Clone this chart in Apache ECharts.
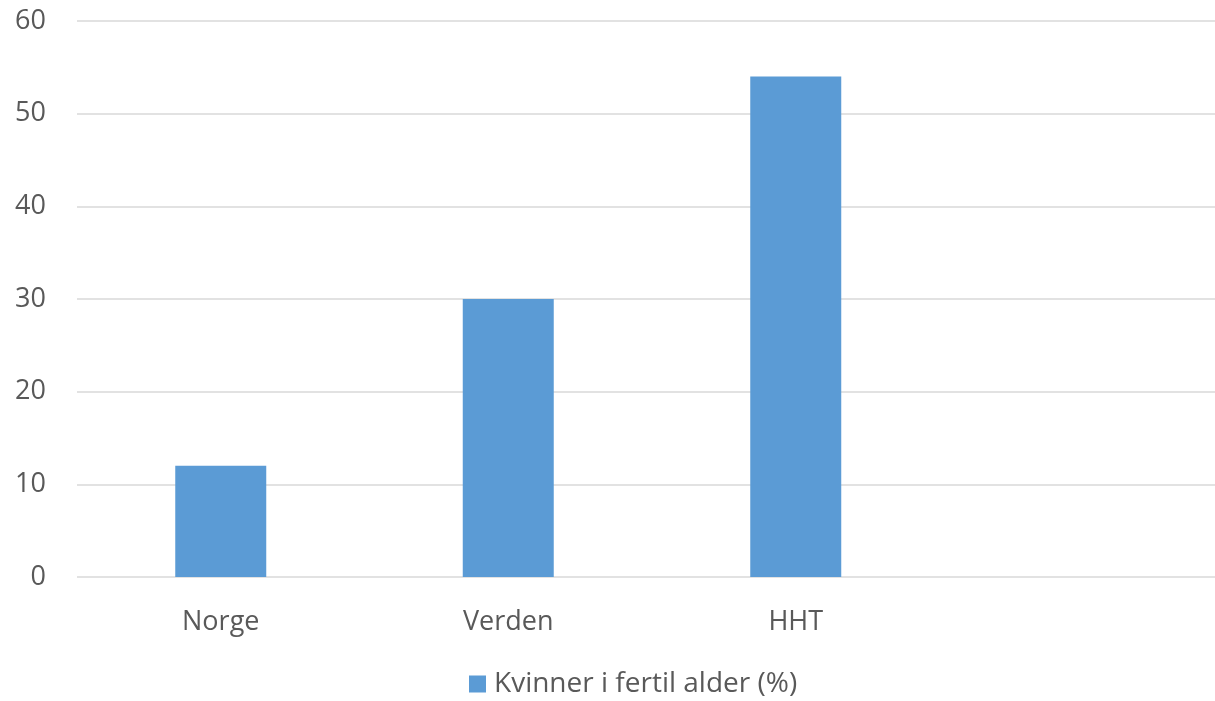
<!DOCTYPE html>
<html>
<head>
<meta charset="utf-8">
<script src="https://cdn.jsdelivr.net/npm/echarts@6/dist/echarts.min.js"></script>
<style>
  html, body { margin: 0; padding: 0; background: #ffffff; }
  #chart { width: 1215px; height: 701px; }
</style>
</head>
<body>
<div id="chart"></div>
<script>
// Andel kvinner i fertil alder
const categories = ['Norge', 'Verden', 'HHT', ''];
const seriesName = 'Kvinner i fertil alder (%)';
const values = [12, 30, 54, null];
const yTicks = { min: 0, max: 60, interval: 10 };

const textColor = '#595959';
const fontFamily = '"Open Sans", "Liberation Sans", sans-serif';

const chart = echarts.init(document.getElementById('chart'));
chart.setOption({
  animation: false,
  backgroundColor: '#ffffff',
  grid: { left: 77, top: 21, width: 1150, bottom: 124, containLabel: false, outerBoundsMode: 'none' },
  legend: {
    top: 670,
    left: 469,
    padding: 0,
    itemWidth: 17,
    itemHeight: 17,
    itemGap: 11,
    icon: 'rect',
    textStyle: { color: textColor, fontSize: 28, fontFamily: fontFamily, padding: [0, 0, 0, 3] },
    data: [seriesName]
  },
  xAxis: {
    type: 'category',
    data: categories,
    axisLine: { show: false },
    axisTick: { show: false },
    axisLabel: { color: textColor, fontSize: 27, fontFamily: fontFamily, margin: 32 }
  },
  yAxis: {
    type: 'value',
    min: yTicks.min,
    max: yTicks.max,
    interval: yTicks.interval,
    axisLine: { show: false },
    axisTick: { show: false },
    axisLabel: { color: textColor, fontSize: 27, fontFamily: fontFamily, margin: 31 },
    splitLine: { lineStyle: { color: '#d9d9d9', width: 1.5 } }
  },
  series: [{
    name: seriesName,
    type: 'bar',
    data: values,
    barWidth: 91,
    itemStyle: { color: '#5b9bd5' }
  }]
});
</script>
</body>
</html>
